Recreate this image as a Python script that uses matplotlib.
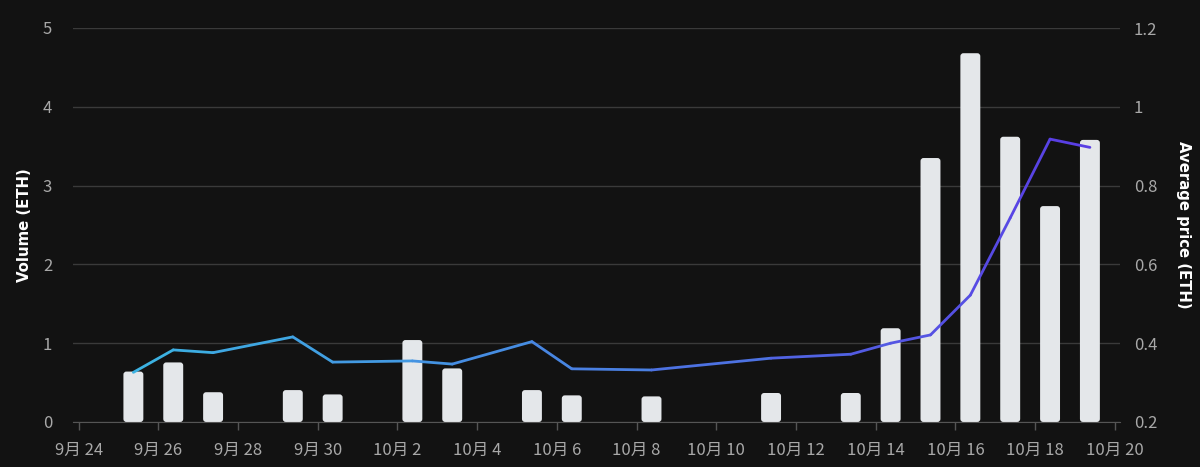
import numpy as np
import pandas as pd
import matplotlib
matplotlib.use("Agg")
import matplotlib.pyplot as plt
import matplotlib.dates as mdates
from matplotlib.collections import LineCollection
from matplotlib.patches import FancyBboxPatch
from matplotlib.colors import LinearSegmentedColormap
from matplotlib.ticker import FuncFormatter, FixedLocator

plt.rcParams['font.family'] = ['Noto Sans CJK JP', 'DejaVu Sans']

dates = ["2023-09-25", "2023-09-26", "2023-09-27", "2023-09-29", "2023-09-30",
         "2023-10-02", "2023-10-03", "2023-10-05", "2023-10-06", "2023-10-08",
         "2023-10-11", "2023-10-13", "2023-10-14", "2023-10-15", "2023-10-16",
         "2023-10-17", "2023-10-18", "2023-10-19"]
volume = [0.64, 0.756, 0.378, 0.405, 0.35,
          1.04, 0.68, 0.405, 0.338, 0.325,
          0.368, 0.368, 1.19, 3.35, 4.68,
          3.62, 2.74, 3.58]
avg_price = [0.326, 0.383, 0.376, 0.416, 0.352,
             0.355, 0.347, 0.404, 0.335, 0.332,
             0.362, 0.372, 0.400, 0.421, 0.522,
             0.718, 0.918, 0.897]
tick_dates = pd.date_range("2023-09-24", "2023-10-20", freq="2D")
tz_offset = pd.Timedelta(hours=9)

BG = "#121212"
GRID = "#3a3a3a"
TICKC = "#a8a8a8"
BARC = "#e4e7ea"

fig = plt.figure(figsize=(12, 4.67), dpi=100, facecolor=BG)
ax = fig.add_axes([73/1200, 45/467, (1120-73)/1200, (422-28)/467])
ax.set_facecolor(BG)
ax2 = ax.twinx()

x = mdates.date2num(pd.to_datetime(dates) + tz_offset)

bars = ax.bar(x, volume, width=0.5, color=BARC, zorder=2)
# rounded tops
px_per_day = (1120-73) / (26 + 0.14 + 0.13)
px_per_unit = (422-28) / 5
r_x = 3.0 / px_per_day
aspect = (3.0 / px_per_unit) / r_x
for b in bars:
    bx, by = b.get_x(), b.get_y()
    bw, bh = b.get_width(), b.get_height()
    p = FancyBboxPatch((bx, by), bw, bh,
                       boxstyle=f"round,pad=0,rounding_size={r_x}",
                       mutation_aspect=aspect, facecolor=BARC,
                       edgecolor="none", zorder=2)
    ax.add_patch(p)
    b.set_visible(False)

# gradient price line
cmap = LinearSegmentedColormap.from_list("g", ["#3bb4e2", "#4a80e2", "#5a3ce4"])
pts = np.column_stack([x, avg_price])
segs = np.stack([pts[:-1], pts[1:]], axis=1)
mids = (x[:-1] + x[1:]) / 2
frac = (mids - x[0]) / (x[-1] - x[0])
lc = LineCollection(segs, colors=cmap(frac), linewidths=2.0, zorder=3,
                    capstyle="round", joinstyle="round")
ax2.add_collection(lc)

xmin = mdates.date2num(pd.Timestamp("2023-09-24")) - 0.14
xmax = mdates.date2num(pd.Timestamp("2023-10-20")) + 0.13
ax.set_xlim(xmin, xmax)
ax.set_ylim(0, 5)
ax2.set_ylim(0.2, 1.2)

ax.set_yticks([0, 1, 2, 3, 4, 5])
ax2.set_yticks([0.2, 0.4, 0.6, 0.8, 1.0, 1.2])
ax2.yaxis.set_major_formatter(FuncFormatter(lambda v, p: f"{v:g}"))
ax.xaxis.set_major_locator(FixedLocator(mdates.date2num(tick_dates)))
ax.xaxis.set_major_formatter(FuncFormatter(
    lambda v, p: f"{mdates.num2date(v).month}月 {mdates.num2date(v).day}"))

ax.grid(axis="y", color=GRID, linewidth=1.0, zorder=0)
ax.set_axisbelow(True)
for a in (ax, ax2):
    for s in a.spines.values():
        s.set_visible(False)
ax.spines["bottom"].set_visible(True)
ax.spines["bottom"].set_color("#555555")

ax.tick_params(axis="x", colors="#555555", labelcolor=TICKC, labelsize=12,
               length=6, width=1, pad=8)
ax.tick_params(axis="y", length=0, labelcolor=TICKC, labelsize=12, pad=15)
ax2.tick_params(axis="y", length=0, labelcolor=TICKC, labelsize=12, pad=10)

ax.set_ylabel("Volume (ETH)", color="white", fontsize=10.7, fontweight="bold",
              labelpad=8, family=["DejaVu Sans"])
ax2.set_ylabel("Average price (ETH)", color="white", fontsize=10.7,
               fontweight="bold", rotation=270, labelpad=24,
               family=["DejaVu Sans"])

fig.savefig("out.png", dpi=100, facecolor=BG)
